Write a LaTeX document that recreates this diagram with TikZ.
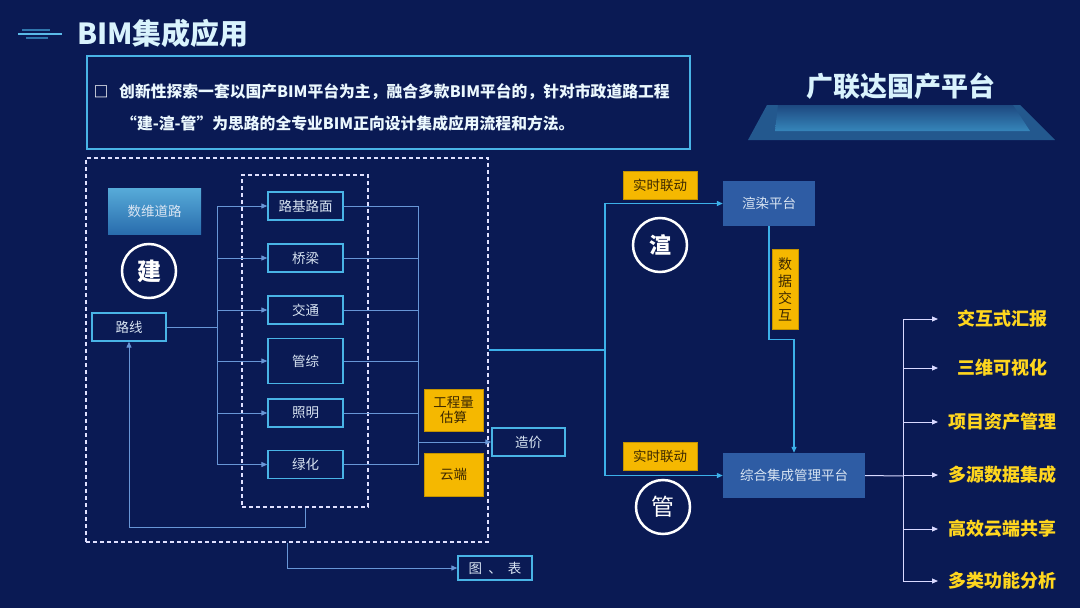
\documentclass[tikz,border=0pt]{standalone}
\usepackage{fontspec}
\setmainfont{Noto Sans CJK SC}
\usetikzlibrary{arrows.meta}
\definecolor{bgc}{RGB}{10,26,84}
\definecolor{cyanb}{RGB}{73,180,230}
\definecolor{lineb}{RGB}{104,150,214}
\definecolor{linec}{RGB}{60,176,232}
\definecolor{labc}{RGB}{216,228,242}
\definecolor{yel}{RGB}{245,184,0}
\definecolor{yeltxt}{RGB}{255,214,30}
\definecolor{darktxt}{RGB}{60,40,0}
\definecolor{platc}{RGB}{46,92,164}
\tikzset{
  box/.style={draw=cyanb,line width=1.3pt,fill=bgc,text=labc,font=\fontsize{13.5}{15}\selectfont,inner sep=0pt,minimum width=#1},
  box/.default=75pt,
  ybox/.style={fill=yel,draw=yel!80!black,line width=0.5pt,text=darktxt,font=\fontsize{13.5}{15}\selectfont,inner sep=0pt,align=center},
  dbox/.style={draw=white!88!blue,dash pattern=on 4pt off 3pt,line width=1.4pt,inner sep=0pt},
  conn/.style={draw=lineb,line width=1pt},
  cconn/.style={draw=linec,line width=1.2pt},
  tip/.style={-{Triangle[length=6pt,width=5pt]}},
  circ/.style={circle,draw=white,line width=2.5pt,minimum size=54pt,inner sep=0pt,text=white,font=\fontsize{23}{25}\selectfont},
  plat/.style={fill=platc,text=labc,font=\fontsize{13.5}{15}\selectfont,inner sep=0pt},
  item/.style={text=yeltxt,font=\bfseries\fontsize{18}{20}\selectfont,minimum width=128pt,inner sep=0pt},
}
\begin{document}
\begin{tikzpicture}[x=1pt,y=-1pt]
\fill[bgc] (0,0) rectangle (1080,608);
\useasboundingbox (0,0) rectangle (1080,608);

% title
\draw[line width=1.5pt,color=cyanb!60!bgc] (22,30) -- (50,30);
\draw[line width=1.5pt,color=cyanb!90!white] (18,34) -- (62,34);
\draw[line width=1.5pt,color=cyanb!60!bgc] (26,38) -- (48,38);
\node[anchor=west,inner sep=0pt,text=white!85!cyan,font=\bfseries\fontsize{29}{31}\selectfont] (title) at (77,33) {BIM集成应用};

% top description box
\node[draw=cyanb,line width=1.4pt,minimum width=603pt,minimum height=93pt,inner sep=0pt] (desc) at (388.5,102.5) {};
\node[text=white,font=\bfseries\fontsize{15}{17}\selectfont,inner sep=0pt] (bul) at (101,92) {□};
\node[anchor=west,inner sep=0pt,text=white!92!cyan,font=\bfseries\fontsize{15.8}{18}\selectfont] (d1) at (119,92) {创新性探索一套以国产BIM平台为主，融合多款BIM平台的，针对市政道路工程};
\node[anchor=west,inner sep=0pt,text=white!92!cyan,font=\bfseries\fontsize{15.8}{18}\selectfont] (d2) at (121,123) {“建-渲-管”为思路的全专业BIM正向设计集成应用流程和方法。};

% platform
\fill[color=cyanb!40!bgc] (748,140) -- (1055,140) -- (1020,105) -- (767,105) -- cycle;
\shade[top color=cyanb!30!bgc,bottom color=cyanb!70!bgc] (775,131) -- (1030,131) -- (1013,105) -- (778,105) -- cycle;
\node[text=white!85!cyan,font=\bfseries\fontsize{27}{29}\selectfont,inner sep=0pt] (gld) at (901,86) {广联达国产平台};

% left dashed boxes
\node[dbox,minimum width=402pt,minimum height=384pt] (ob) at (287,350) {};
\node[dbox,minimum width=126pt,minimum height=332pt] (ib) at (305,341) {};

% 数维道路
\node[shade,top color=blue!35!cyan!60!white!85!black,bottom color=platc!90!cyan,minimum width=93pt,minimum height=46pt,inner sep=0pt,text=labc,font=\fontsize{13.5}{15}\selectfont] (swdl) at (154.5,211) {数维道路};
\node[circ,font=\bfseries\fontsize{24}{26}\selectfont] (jian) at (149,271) {建};
\node[box=74pt,minimum height=28pt] (lx) at (129,327) {路线};

% discipline boxes
\node[box,minimum height=28pt] (b1) at (305.5,206) {路基路面};
\node[box,minimum height=28pt] (b2) at (305.5,258) {桥梁};
\node[box,minimum height=28pt] (b3) at (305.5,310) {交通};
\node[box,minimum height=45pt] (b4) at (305.5,361) {管综};
\node[box,minimum height=28pt] (b5) at (305.5,413) {照明};
\node[box,minimum height=28pt] (b6) at (305.5,464.5) {绿化};

\coordinate (sp) at (217,327);
\draw[conn] (lx.east) -- (sp);
\draw[conn] (sp |- b1.west) -- (sp |- b6.west);
\foreach \b in {b1,b2,b3,b4,b5,b6}{\draw[conn,tip] (sp |- \b.west) -- (\b.west);}

\coordinate (mr) at (418,442);
\foreach \b in {b1,b2,b3,b4,b5,b6}{\draw[conn] (\b.east) -- (mr |- \b.east);}
\draw[conn] (mr |- b1.east) -- (mr |- b6.east);

\node[box=73pt,minimum height=28pt] (zj) at (528.5,442) {造价};
\draw[conn,tip] (mr) -- (zj.west);

\node[ybox,minimum width=59pt,minimum height=42pt] (gcl) at (453.5,410) {工程量\\估算};
\node[ybox,minimum width=59pt,minimum height=43pt] (yd) at (453.5,474.5) {云端};

% feedback
\draw[conn,tip] (ib.south) -- ++(0,20) -| (lx.south);

% 图表
\node[box=74pt,minimum height=24pt] (tb) at (495,568) {图\ \ 、\ \ 表};
\draw[conn,tip] (ob.south) |- (tb.west);

% right part
\coordinate (jn) at (605,350);
\draw[cconn] (ob.east) -- (jn);
\node[plat,minimum width=92pt,minimum height=45pt] (xr) at (769,203.5) {渲染平台};
\node[plat,minimum width=142pt,minimum height=45pt] (zh) at (794,475.5) {综合集成管理平台};
\draw[cconn,tip] (jn) |- (xr.west);
\draw[cconn,tip] (jn) |- (zh.west);
\node[ybox,minimum width=74pt,minimum height=28pt] (ss1) at (660,185) {实时联动};
\node[ybox,minimum width=74pt,minimum height=28pt] (ss2) at (660,456) {实时联动};
\node[circ,font=\bfseries\fontsize{22}{24}\selectfont] (xuan) at (660,245) {渲};
\node[circ] (guan) at (663,507) {管};
\draw[cconn,tip] (xr.south) -- ++(0,113) -| (zh.north);
\node[ybox,minimum width=26pt,minimum height=80pt,font=\fontsize{14}{17}\selectfont] (sjjh) at (785,289) {数\\据\\交\\互};

% outputs
\coordinate (rv) at (903,476);
\draw[line width=1pt,color=white!85!blue] (zh.east) -- (rv);
\foreach \n/\y/\t in {i1/319/交互式汇报,i2/368/三维可视化,i3/422/项目资产管理,i4/475/多源数据集成,i5/529/高效云端共享,i6/581/多类功能分析}{
  \node[item,anchor=west] (\n) at (938,\y) {\t};
  \draw[line width=1pt,color=white!85!blue,-{Triangle[length=6pt,width=5pt]}] (rv |- \n.west) -- (\n.west);
}
\draw[line width=1pt,color=white!85!blue] (rv |- i1.west) -- (rv |- i6.west);
\end{tikzpicture}
\end{document}
